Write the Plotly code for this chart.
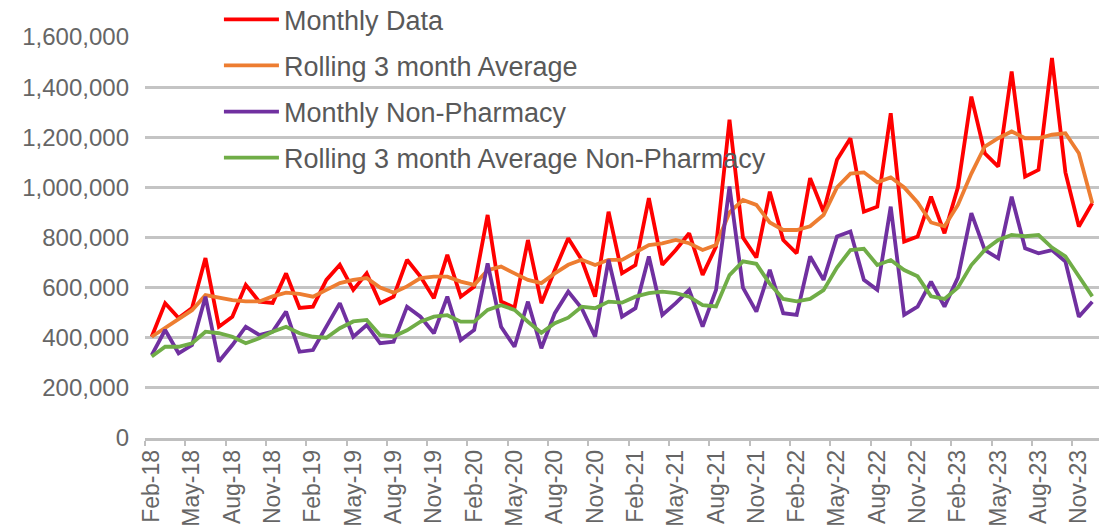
import pandas as pd
import plotly.graph_objects as go

# 月份类别 Feb-18 .. Dec-23
months = pd.date_range('2018-02-01', '2023-12-01', freq='MS').strftime('%b-%y').tolist()

monthly_data = [
    404000, 538000, 479000, 519000, 718000, 444000, 484000, 611000, 544000, 539000, 657000, 519000,
    524000, 631000, 691000, 591000, 657000, 538000, 564000, 711000, 644000, 558000, 731000, 564000,
    604000, 890000, 545000, 520000, 790000, 538000, 670000, 797000, 711000, 564000, 903000, 657000,
    690000, 957000, 691000, 750000, 817000, 651000, 764000, 1270000, 800000, 720000, 983000, 790000,
    737000, 1037000, 903000, 1110000, 1196000, 903000, 923000, 1296000, 784000, 804000, 963000, 817000,
    1000000, 1362000, 1136000, 1083000, 1462000, 1043000, 1070000, 1516000, 1060000, 844000, 937000,
]
rolling_avg = [
    404000, 440000, 475000, 510000, 570000, 560000, 550000, 545000, 545000, 565000, 580000, 575000,
    564000, 591000, 618000, 631000, 638000, 600000, 580000, 605000, 638000, 644000, 644000, 624000,
    611000, 670000, 684000, 657000, 631000, 618000, 657000, 691000, 711000, 690000, 711000, 711000,
    740000, 770000, 777000, 790000, 777000, 750000, 770000, 900000, 950000, 930000, 860000, 830000,
    830000, 845000, 890000, 1000000, 1055000, 1060000, 1020000, 1040000, 1000000, 940000, 860000, 845000,
    930000, 1055000, 1163000, 1196000, 1223000, 1196000, 1196000, 1210000, 1216000, 1136000, 937000,
]
monthly_non_pharmacy = [
    331000, 431000, 338000, 371000, 564000, 305000, 371000, 444000, 411000, 425000, 504000, 344000,
    351000, 444000, 538000, 404000, 451000, 378000, 384000, 524000, 484000, 418000, 564000, 391000,
    431000, 697000, 444000, 364000, 544000, 358000, 498000, 584000, 518000, 404000, 711000, 484000,
    518000, 724000, 491000, 538000, 591000, 444000, 591000, 1003000, 600000, 504000, 671000, 498000,
    491000, 724000, 631000, 804000, 824000, 631000, 591000, 923000, 491000, 524000, 624000, 524000,
    640000, 897000, 750000, 717000, 963000, 757000, 737000, 750000, 704000, 484000, 544000,
]
rolling_avg_non_pharmacy = [
    325000, 364000, 364000, 378000, 424000, 418000, 404000, 378000, 398000, 424000, 444000, 418000,
    404000, 400000, 438000, 465000, 471000, 410000, 405000, 430000, 464000, 484000, 490000, 464000,
    464000, 511000, 530000, 511000, 464000, 420000, 458000, 480000, 524000, 518000, 544000, 540000,
    564000, 578000, 584000, 578000, 564000, 530000, 525000, 650000, 705000, 695000, 615000, 555000,
    545000, 555000, 590000, 680000, 750000, 755000, 690000, 710000, 670000, 645000, 565000, 555000,
    600000, 690000, 750000, 790000, 810000, 805000, 810000, 760000, 725000, 645000, 565000,
]

series = [
    ('Monthly Data', monthly_data, '#FF0000'),
    ('Rolling 3 month Average', rolling_avg, '#ED7D31'),
    ('Monthly Non-Pharmacy', monthly_non_pharmacy, '#7030A0'),
    ('Rolling 3 month Average Non-Pharmacy', rolling_avg_non_pharmacy, '#70AD47'),
]

fig = go.Figure()
for name, vals, color in series:
    fig.add_trace(go.Scatter(
        x=months, y=vals, mode='lines', name=name, legendgroup=name,
        line=dict(color=color, width=3.8)
    ))

# 页面 body 有 8px 边距，因此画布缩小 8px
fig.update_layout(
    width=1104, height=522,
    margin=dict(l=137, r=13, t=29, b=92, autoexpand=False),
    plot_bgcolor='white', paper_bgcolor='white',
    font=dict(family='Liberation Sans, Arial', color='#666666'),
    legend=dict(
        x=0.0775, y=1.104, xanchor='left', yanchor='top',
        bgcolor='rgba(0,0,0,0)', font=dict(size=27, color='#595959'),
        tracegroupgap=8, itemwidth=55
    ),
    xaxis=dict(
        type='category', range=[-0.5, len(months) - 0.5],
        tickmode='linear', tick0=0, dtick=3, tickson='boundaries',
        ticks='outside', ticklen=5, tickcolor='#BFBFBF', tickwidth=1.5,
        tickangle=-90, tickfont=dict(size=23, color='#666666'),
        showline=True, linecolor='#BFBFBF', linewidth=2.5,
        showgrid=False
    ),
    yaxis=dict(
        range=[0, 1600000], dtick=200000, tickformat=',',
        tickfont=dict(size=24, color='#666666'), ticklabelstandoff=15,
        showgrid=True, gridcolor='#C4C4C4', gridwidth=2.5,
        zeroline=False, showline=False
    ),
)

fig.write_html('out.html')
